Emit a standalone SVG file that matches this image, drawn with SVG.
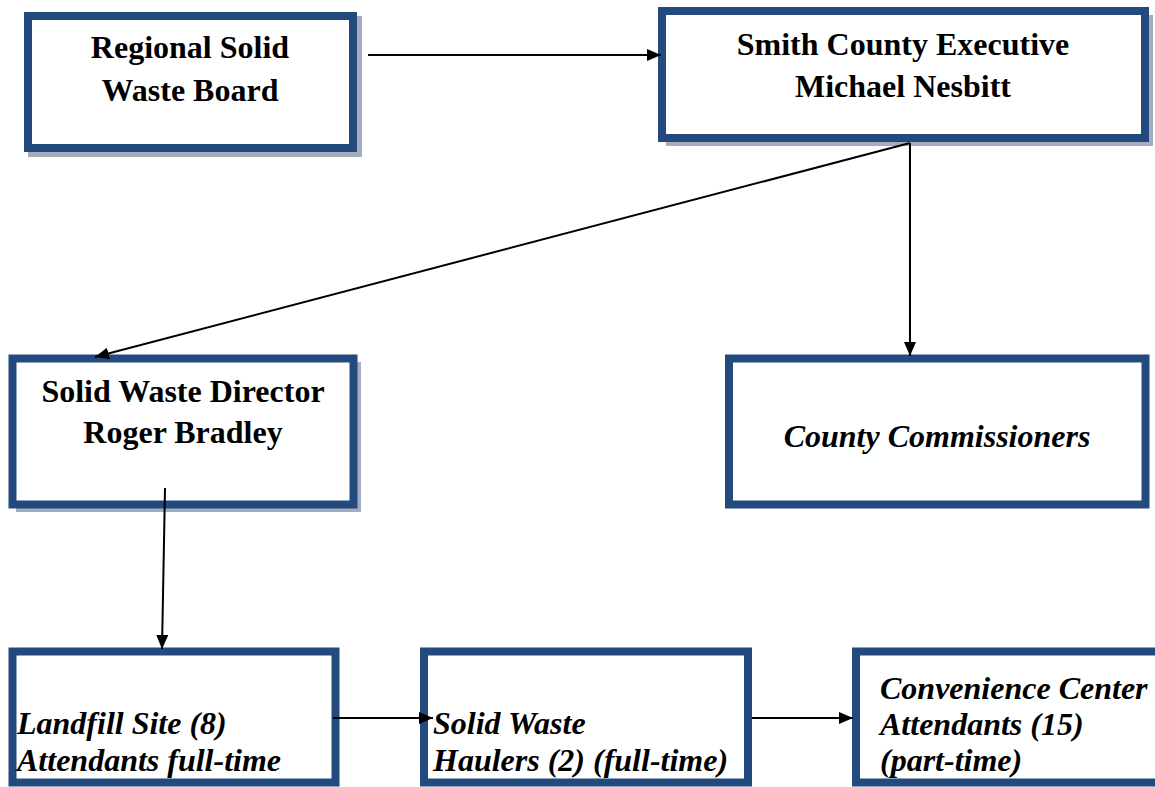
<svg xmlns="http://www.w3.org/2000/svg" width="1155" height="787" viewBox="0 0 1155 787">
<defs>
<style>
.box{fill:#ffffff;stroke:#224a7d;stroke-width:8}
.shadow{fill:#a3adbf}
.t{font-family:"Liberation Serif","Times New Roman",serif;font-size:32px;font-weight:bold;fill:#000}
.c{text-anchor:middle}
.i{font-style:italic}
.conn{stroke:#000;stroke-width:2;fill:none}
</style>
<marker id="arr" viewBox="0 0 14 12" refX="14" refY="6" markerWidth="14" markerHeight="12" markerUnits="userSpaceOnUse" orient="auto">
<path d="M0,0 L14,6 L0,12 Z" fill="#000"/>
</marker>
</defs>
<rect width="1155" height="787" fill="#fff"/>
<g id="node-board">
<rect class="shadow" x="28" y="16" width="334" height="141"/>
<rect class="box" x="28" y="16" width="325" height="132"/>
<text class="t c" x="190" y="58">Regional Solid</text>
<text class="t c" x="190" y="101">Waste Board</text>
</g>
<g id="node-executive">
<rect class="shadow" x="666" y="15" width="487" height="131"/>
<rect class="box" x="662" y="11" width="483" height="127"/>
<text class="t c" x="903" y="55">Smith County Executive</text>
<text class="t c" x="903" y="97">Michael Nesbitt</text>
</g>
<g id="node-director">
<rect class="shadow" x="16" y="362" width="345" height="150"/>
<rect class="box" x="12.5" y="358.5" width="341" height="146"/>
<text class="t c" x="183" y="402">Solid Waste Director</text>
<text class="t c" x="183" y="443">Roger Bradley</text>
</g>
<g id="node-commissioners">
<rect class="box" x="729" y="358.5" width="416.5" height="146"/>
<text class="t c i" x="937" y="447">County Commissioners</text>
</g>
<g id="node-landfill">
<rect class="box" x="12.5" y="651.5" width="323" height="131"/>
<text class="t i" x="17" y="734">Landfill Site (8)</text>
<text class="t i" x="17" y="771">Attendants full-time</text>
</g>
<g id="node-haulers">
<rect class="box" x="424" y="651.5" width="324" height="131"/>
<text class="t i" x="433" y="734">Solid Waste</text>
<text class="t i" x="433" y="771">Haulers (2) (full-time)</text>
</g>
<g id="node-convenience">
<rect class="box" x="856" y="651.5" width="320" height="131"/>
<text class="t i" x="880" y="699">Convenience Center</text>
<text class="t i" x="880" y="735">Attendants (15)</text>
<text class="t i" x="880" y="771">(part-time)</text>
</g>
<g id="connectors">
<line class="conn" x1="368" y1="55" x2="661" y2="55" marker-end="url(#arr)"/>
<line class="conn" x1="910" y1="143" x2="95" y2="357" marker-end="url(#arr)"/>
<line class="conn" x1="910" y1="143" x2="910" y2="356" marker-end="url(#arr)"/>
<line class="conn" x1="165" y1="488" x2="162" y2="649" marker-end="url(#arr)"/>
<line class="conn" x1="333" y1="718" x2="433" y2="718" marker-end="url(#arr)"/>
<line class="conn" x1="752" y1="718" x2="853" y2="718" marker-end="url(#arr)"/>
</g>
</svg>
